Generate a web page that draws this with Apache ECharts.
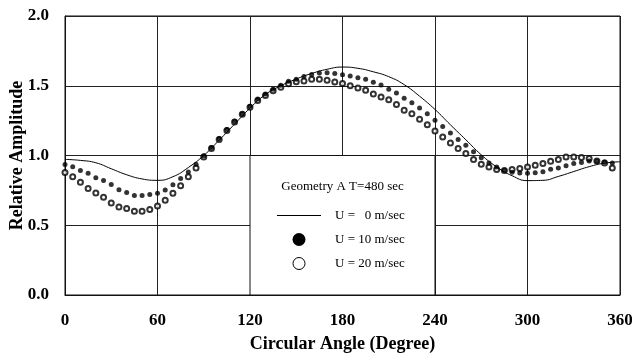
<!DOCTYPE html>
<html>
<head>
<meta charset="utf-8">
<script src="https://cdn.jsdelivr.net/npm/echarts@6/dist/echarts.min.js"></script>
<style>
  html, body { margin: 0; padding: 0; background: #fff; }
  #chart { width: 632px; height: 354px; }
</style>
</head>
<body>
<div id="chart"></div>
<script>
// U = 0 m/sec, smooth reference curve, read every 10 degrees
var lineAngles = [0, 10, 20, 30, 40, 50, 60, 70, 80, 90, 100, 110, 120, 130, 140, 150, 160, 170, 180,
  190, 200, 210, 220, 230, 240, 250, 260, 270, 280, 290, 300, 310, 320, 330, 340, 350, 360]
var u0 = [0.972, 0.965, 0.948, 0.905, 0.862, 0.832, 0.822, 0.848, 0.914, 1.0, 1.11, 1.225, 1.34, 1.437, 1.5, 1.548, 1.588, 1.618, 1.634,
  1.625, 1.6, 1.565, 1.508, 1.425, 1.33, 1.22, 1.113, 1.005, 0.918, 0.855, 0.82, 0.822, 0.85, 0.885, 0.92, 0.945, 0.955]

// measured points, every 5 degrees
var angles = [0, 5, 10, 15, 20, 25, 30, 35, 40, 45, 50, 55, 60, 65, 70, 75, 80, 85, 90, 95, 100, 105, 110, 115,
  120, 125, 130, 135, 140, 145, 150, 155, 160, 165, 170, 175, 180, 185, 190, 195, 200, 205, 210, 215, 220, 225, 230, 235,
  240, 245, 250, 255, 260, 265, 270, 275, 280, 285, 290, 295, 300, 305, 310, 315, 320, 325, 330, 335, 340, 345, 350, 355]
var u10 = [0.935, 0.92, 0.893, 0.873, 0.84, 0.821, 0.792, 0.754, 0.735, 0.713, 0.713, 0.72, 0.73, 0.752, 0.79, 0.835, 0.882, 0.938, 0.998, 1.057, 1.122, 1.186, 1.245, 1.3,
  1.353, 1.405, 1.44, 1.475, 1.503, 1.532, 1.546, 1.567, 1.58, 1.592, 1.594, 1.587, 1.578, 1.57, 1.558, 1.546, 1.525, 1.506, 1.475, 1.448, 1.41, 1.379, 1.341, 1.3,
  1.253, 1.208, 1.162, 1.115, 1.074, 1.026, 0.983, 0.947, 0.918, 0.895, 0.88, 0.874, 0.872, 0.876, 0.883, 0.902, 0.911, 0.926, 0.943, 0.95, 0.961, 0.959, 0.954, 0.947]
var u20 = [0.878, 0.847, 0.809, 0.764, 0.732, 0.7, 0.66, 0.63, 0.62, 0.6, 0.6, 0.613, 0.638, 0.68, 0.73, 0.783, 0.847, 0.91, 0.99, 1.05, 1.115, 1.18, 1.24, 1.295,
  1.345, 1.395, 1.43, 1.465, 1.49, 1.515, 1.528, 1.534, 1.546, 1.546, 1.539, 1.527, 1.516, 1.5, 1.484, 1.467, 1.441, 1.42, 1.4, 1.365, 1.324, 1.3, 1.26, 1.22,
  1.176, 1.133, 1.09, 1.05, 1.014, 0.971, 0.938, 0.918, 0.9, 0.893, 0.9, 0.907, 0.918, 0.93, 0.943, 0.959, 0.971, 0.99, 0.99, 0.986, 0.978, 0.961, 0.947, 0.911]

var legendTitle = 'Geometry A T=480 sec'
var legendLabels = ['U =   0 m/sec', 'U = 10 m/sec', 'U = 20 m/sec']

var font = '"Liberation Serif", "Times New Roman", serif'

function pairs(xs, ys) {
  return xs.map(function (x, i) { return [x, ys[i]] })
}

var chart = echarts.init(document.getElementById('chart'))
var option = {
  animation: false,
  backgroundColor: '#fff',
  grid: {
    left: 65,
    right: 12,
    top: 16,
    bottom: 59,
    containLabel: false,
    outerBoundsMode: 'none',
    show: true,
    borderColor: '#111',
    borderWidth: 1
  },
  xAxis: {
    type: 'value',
    min: 0,
    max: 360,
    interval: 60,
    name: 'Circular Angle (Degree)',
    nameLocation: 'middle',
    nameGap: 40,
    nameTextStyle: { fontFamily: font, fontSize: 18, fontWeight: 'bold', color: '#000' },
    axisLine: { lineStyle: { color: '#111', width: 1 } },
    axisTick: { show: false },
    axisLabel: { fontFamily: font, fontSize: 17, fontWeight: 'bold', color: '#000', margin: 17 },
    splitLine: { lineStyle: { color: '#222', width: 1 } }
  },
  yAxis: {
    type: 'value',
    min: 0,
    max: 2,
    interval: 0.5,
    name: 'Relative Amplitude',
    nameLocation: 'middle',
    nameGap: 39,
    nameMoveOverlap: false,
    nameTextStyle: { fontFamily: font, fontSize: 18, fontWeight: 'bold', color: '#000' },
    axisLine: { lineStyle: { color: '#111', width: 1 } },
    axisTick: { show: false },
    axisLabel: {
      fontFamily: font, fontSize: 17, fontWeight: 'bold', color: '#000', margin: 16,
      formatter: function (v) { return v.toFixed(1) }
    },
    splitLine: { lineStyle: { color: '#222', width: 1 } }
  },
  series: [
    {
      name: legendLabels[0],
      type: 'line',
      smooth: true,
      showSymbol: false,
      lineStyle: { color: '#000', width: 1 },
      data: pairs(lineAngles, u0)
    },
    {
      name: legendLabels[2],
      type: 'scatter',
      symbol: 'emptyCircle',
      symbolSize: 5,
      itemStyle: { color: '#000', borderColor: '#000', borderWidth: 0.6 },
      data: pairs(angles, u20)
    },
    {
      name: legendLabels[1],
      type: 'scatter',
      symbol: 'circle',
      symbolSize: 5,
      itemStyle: { color: '#000' },
      data: pairs(angles, u10)
    }
  ]
}
chart.setOption(option)

// legend box sits in the grid cell from 120 to 240 degrees, 0 to 1.0
var p0 = chart.convertToPixel({ gridIndex: 0 }, [120, 1.0])
var p1 = chart.convertToPixel({ gridIndex: 0 }, [240, 0])
var bx = p0[0], by = p0[1], bw = p1[0] - p0[0], bh = p1[1] - p0[1]
var txt = { fontFamily: font, fontSize: 13, fill: '#000' }

chart.setOption({
  graphic: [
    { type: 'rect', z: 50, shape: { x: bx, y: by, width: bw, height: bh }, style: { fill: '#fff', stroke: '#111', lineWidth: 1 } },
    { type: 'text', z: 51, x: bx + bw / 2, y: by + 31, style: Object.assign({ text: legendTitle, align: 'center', verticalAlign: 'middle' }, txt) },
    { type: 'line', z: 51, shape: { x1: bx + 27, y1: by + 60, x2: bx + 71, y2: by + 60 }, style: { stroke: '#000', lineWidth: 1 } },
    { type: 'circle', z: 51, shape: { cx: bx + 49, cy: by + 84, r: 6.5 }, style: { fill: '#000' } },
    { type: 'circle', z: 51, shape: { cx: bx + 49, cy: by + 108, r: 6 }, style: { fill: '#fff', stroke: '#000', lineWidth: 1 } },
    { type: 'text', z: 51, x: bx + 85, y: by + 60, style: Object.assign({ text: legendLabels[0], verticalAlign: 'middle' }, txt) },
    { type: 'text', z: 51, x: bx + 85, y: by + 84, style: Object.assign({ text: legendLabels[1], verticalAlign: 'middle' }, txt) },
    { type: 'text', z: 51, x: bx + 85, y: by + 108, style: Object.assign({ text: legendLabels[2], verticalAlign: 'middle' }, txt) }
  ]
})
</script>
</body>
</html>
